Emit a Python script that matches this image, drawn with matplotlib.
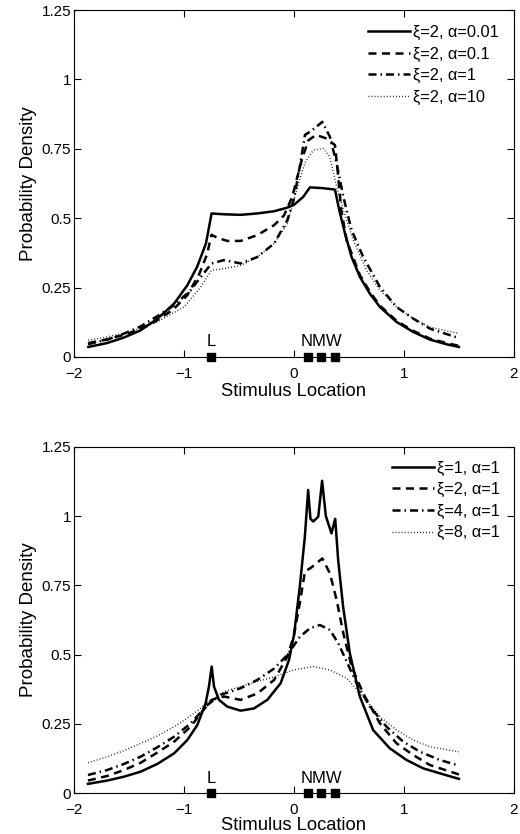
import matplotlib
matplotlib.use("Agg")
import matplotlib.pyplot as plt

plt.rcParams['font.family'] = ['Liberation Sans', 'DejaVu Sans']
plt.rcParams['font.size'] = 11

# ---------- data ----------
# top panel: xi = 2, varying alpha
a001_x = [-1.87, -1.7, -1.545, -1.394, -1.24, -1.09, -0.97, -0.88, -0.80, -0.749, -0.636, -0.485,
          -0.333, -0.18, -0.06, 0.0, 0.085, 0.145, 0.267, 0.373, 0.412, 0.464, 0.524, 0.6, 0.69,
          0.782, 0.933, 1.085, 1.236, 1.388, 1.5]
a001_y = [0.036, 0.050, 0.070, 0.096, 0.138, 0.192, 0.258, 0.325, 0.409, 0.517, 0.514, 0.512,
          0.517, 0.525, 0.538, 0.548, 0.577, 0.611, 0.608, 0.603, 0.529, 0.445, 0.36, 0.288, 0.228,
          0.18, 0.126, 0.09, 0.0625, 0.0457, 0.036]

a01_x = [-1.87, -1.7, -1.5, -1.3, -1.1, -0.97, -0.86, -0.79, -0.75, -0.70, -0.606, -0.485, -0.333,
         -0.18, -0.09, -0.015, 0.07, 0.13, 0.2, 0.297, 0.373, 0.40, 0.43, 0.479, 0.6, 0.69, 0.782,
         0.933, 1.085, 1.236, 1.388, 1.5]
a01_y = [0.05, 0.063, 0.085, 0.118, 0.17, 0.222, 0.30, 0.37, 0.44, 0.43, 0.418, 0.418, 0.439,
         0.475, 0.51, 0.577, 0.709, 0.78, 0.80, 0.787, 0.763, 0.66, 0.53, 0.42, 0.295, 0.235, 0.185,
         0.13, 0.094, 0.066, 0.05, 0.04]

# xi = 2, alpha = 1 (same curve in both panels)
xi2_x = [-1.873, -1.697, -1.545, -1.394, -1.242, -1.09, -0.94, -0.848, -0.748, -0.636, -0.485,
         -0.333, -0.18, -0.06, 0.0, 0.055, 0.1, 0.16, 0.258, 0.327, 0.388, 0.449, 0.524, 0.63,
         0.782, 0.933, 1.085, 1.236, 1.5]
xi2_y = [0.046, 0.0625, 0.084, 0.11, 0.147, 0.186, 0.24, 0.288, 0.337, 0.349, 0.337, 0.36, 0.409,
         0.493, 0.57, 0.69, 0.8, 0.815, 0.847, 0.793, 0.697, 0.577, 0.457, 0.36, 0.252, 0.18, 0.138,
         0.102, 0.068]

a10_x = [-1.87, -1.7, -1.5, -1.25, -1.0, -0.85, -0.75, -0.636, -0.485, -0.333, -0.18, -0.06, 0.024,
         0.1, 0.176, 0.267, 0.327, 0.388, 0.45, 0.54, 0.66, 0.782, 0.933, 1.085, 1.236, 1.5]
a10_y = [0.06, 0.072, 0.09, 0.125, 0.18, 0.25, 0.3125, 0.318, 0.33, 0.36, 0.409, 0.48, 0.60, 0.70,
         0.745, 0.751, 0.72, 0.613, 0.529, 0.42, 0.3125, 0.24, 0.18, 0.138, 0.108, 0.084]

# bottom panel: alpha = 1, varying xi
xi1_x = [-1.873, -1.697, -1.545, -1.394, -1.242, -1.09, -0.97, -0.879, -0.803, -0.773, -0.748,
         -0.727, -0.682, -0.606, -0.485, -0.364, -0.242, -0.121, -0.045, 0.0, 0.053, 0.099, 0.129,
         0.15, 0.176, 0.221, 0.256, 0.29, 0.341, 0.375, 0.402, 0.447, 0.508, 0.599, 0.72, 0.872,
         1.024, 1.175, 1.327, 1.5]
xi1_y = [0.034, 0.046, 0.060, 0.078, 0.106, 0.144, 0.192, 0.246, 0.325, 0.385, 0.457, 0.385, 0.337,
         0.3125, 0.298, 0.306, 0.337, 0.397, 0.481, 0.57, 0.745, 0.925, 1.094, 0.99, 0.98, 0.998,
         1.127, 1.0, 0.9375, 0.99, 0.841, 0.673, 0.505, 0.349, 0.228, 0.162, 0.12, 0.09, 0.072,
         0.052]

xi4_x = [-1.873, -1.697, -1.545, -1.394, -1.242, -1.09, -0.94, -0.788, -0.667, -0.485, -0.333,
         -0.18, -0.06, 0.055, 0.145, 0.236, 0.327, 0.403, 0.479, 0.57, 0.69, 0.842, 0.994, 1.145,
         1.327, 1.5]
xi4_y = [0.066, 0.084, 0.106, 0.132, 0.166, 0.204, 0.252, 0.318, 0.355, 0.379, 0.409, 0.45, 0.499,
         0.565, 0.595, 0.607, 0.589, 0.541, 0.475, 0.397, 0.3125, 0.24, 0.186, 0.15, 0.12, 0.1]

xi8_x = [-1.873, -1.697, -1.545, -1.394, -1.242, -1.09, -0.94, -0.788, -0.636, -0.485, -0.333,
         -0.18, 0.0, 0.176, 0.327, 0.479, 0.63, 0.782, 0.933, 1.085, 1.236, 1.5]
xi8_y = [0.11, 0.132, 0.154, 0.18, 0.207, 0.24, 0.279, 0.325, 0.367, 0.385, 0.403, 0.42, 0.445,
         0.457, 0.445, 0.415, 0.349, 0.276, 0.228, 0.192, 0.168, 0.15]

# stimulus locations
stim_x = [-0.75, 0.125, 0.25, 0.375]

top_labels = ["ξ=2, α=0.01", "ξ=2, α=0.1", "ξ=2, α=1", "ξ=2, α=10"]
bot_labels = ["ξ=1, α=1", "ξ=2, α=1", "ξ=4, α=1", "ξ=8, α=1"]

xticks = [-2, -1, 0, 1, 2]
yticks = [0, 0.25, 0.5, 0.75, 1, 1.25]
yticklabels = ["0", "0.25", "0.5", "0.75", "1", "1.25"]

styles = [
    dict(linestyle="-", lw=1.8),
    dict(linestyle=(0, (3.2, 2.2)), lw=1.8),
    dict(linestyle=(0, (3.2, 1.6, 0.6, 1.6)), lw=1.8),
    dict(linestyle=(0, (0.6, 1.6)), lw=1.0),
]

fig = plt.figure(figsize=(5.2, 8.34), dpi=100)
ax1 = fig.add_axes([0.1423, 0.572, 0.846, 0.416])
ax2 = fig.add_axes([0.1423, 0.0488, 0.846, 0.4156])


def draw(ax, curves, labels, anchor, xlabelpad):
    for (cx, cy), lab, st in zip(curves, labels, styles):
        ax.plot(cx, cy, color="black", label=lab, **st)
    ax.plot(stim_x, [0] * len(stim_x), "s", color="black", ms=5.5, clip_on=False, zorder=5)
    ax.text(stim_x[0], 0.028, "L", ha="center", va="bottom", fontsize=12)
    ax.text(stim_x[2], 0.028, "NMW", ha="center", va="bottom", fontsize=12)
    ax.set_xlim(-2, 2)
    ax.set_ylim(0, 1.25)
    ax.set_xticks(xticks)
    ax.set_yticks(yticks)
    ax.set_yticklabels(yticklabels)
    ax.tick_params(direction="in", top=True, right=True, length=5, width=0.8)
    ax.tick_params(axis="x", pad=7)
    ax.tick_params(axis="y", pad=2)
    for s in ax.spines.values():
        s.set_linewidth(0.8)
    ax.set_xlabel("Stimulus Location", fontsize=13.2, labelpad=xlabelpad)
    ax.set_ylabel("Probability Density", fontsize=13.5, labelpad=3)
    ax.legend(loc="upper left", bbox_to_anchor=anchor, frameon=False, borderpad=0,
              fontsize=11.8, handlelength=2.56, handletextpad=0.18, labelspacing=0.4,
              borderaxespad=0)


draw(ax1, [(a001_x, a001_y), (a01_x, a01_y), (xi2_x, xi2_y), (a10_x, a10_y)], top_labels,
     (0.668, 0.957), 2)
draw(ax2, [(xi1_x, xi1_y), (xi2_x, xi2_y), (xi4_x, xi4_y), (xi8_x, xi8_y)], bot_labels,
     (0.722, 0.96), 0)

fig.savefig("out.png", dpi=100)
